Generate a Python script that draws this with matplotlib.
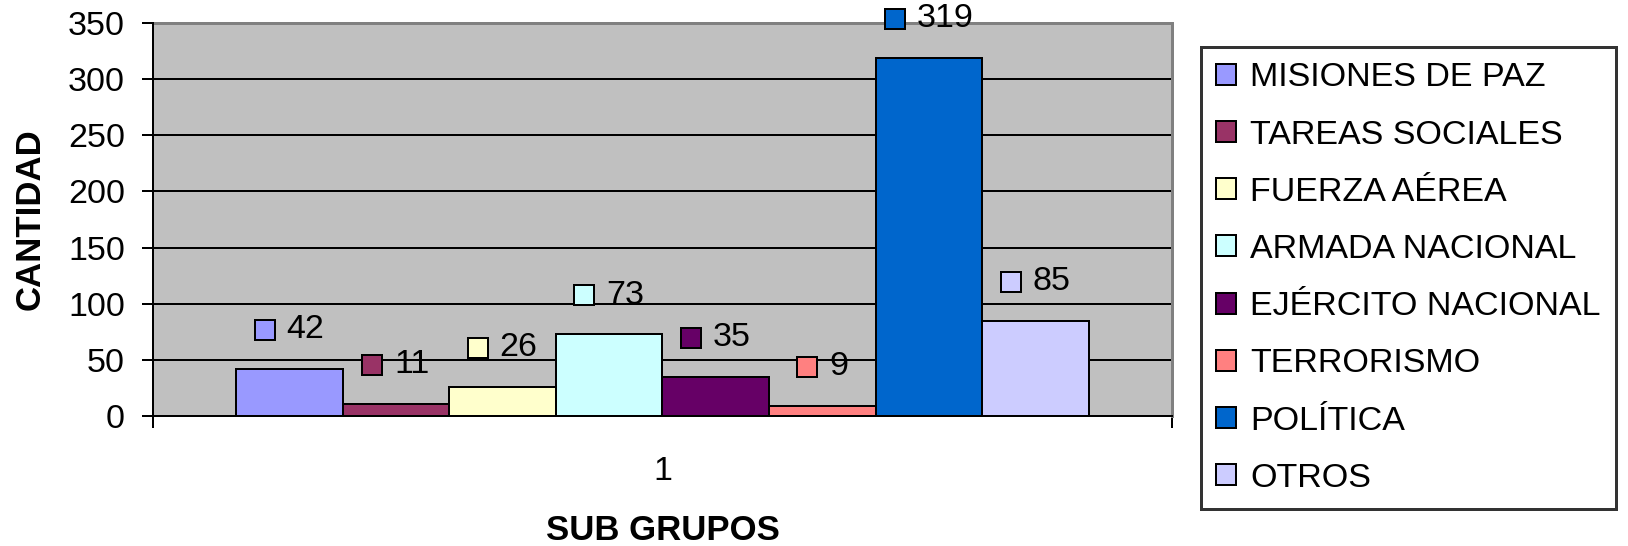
import matplotlib
matplotlib.use("Agg")
import matplotlib.pyplot as plt
from matplotlib.patches import Patch, Rectangle
from matplotlib.offsetbox import DrawingArea, TextArea, HPacker, AnnotationBbox

plt.rcParams['font.family'] = ['Liberation Sans', 'DejaVu Sans']

categories = ["MISIONES DE PAZ", "TAREAS SOCIALES", "FUERZA AÉREA", "ARMADA NACIONAL",
              "EJÉRCITO NACIONAL", "TERRORISMO", "POLÍTICA", "OTROS"]
values = [42, 11, 26, 73, 35, 9, 319, 85]
colors = ["#9999FF", "#993366", "#FFFFCC", "#CCFFFF", "#660066", "#FF8080", "#0066CC", "#CCCCFF"]
group_label = "1"
y_ticks = [0, 50, 100, 150, 200, 250, 300, 350]

DPI = 100
px = 72.0 / DPI  # points per pixel

fig = plt.figure(figsize=(16.28, 5.46), dpi=DPI)
ax = fig.add_axes([153/1628, 1-416/546, (1172-153)/1628, (416-23)/546])
ax.set_facecolor("#C0C0C0")

n = len(values)
width = 0.1046
for i, (cat, v, c) in enumerate(zip(categories, values, colors)):
    x = 1 + (i - (n - 1) / 2) * width
    ax.bar(x, v, width=width, color=c, edgecolor="black", linewidth=2*px, zorder=3, label=cat)
    # data label: square + number, centered above bar
    da = DrawingArea(20*px, 20*px, 0, 0)
    da.add_artist(Rectangle((0, 0), 20*px, 20*px, facecolor=c, edgecolor="black", linewidth=2*px))
    ta = TextArea(str(v), textprops=dict(fontsize=24.5, color="black"))
    pack = HPacker(children=[da, ta], align="center", pad=0, sep=12*px)
    ab = AnnotationBbox(pack, (x, v), xybox=(0, 39*px), xycoords="data",
                        boxcoords="offset points", frameon=False, box_alignment=(0.5, 0.5),
                        zorder=5, annotation_clip=False)
    ax.add_artist(ab)

ax.set_xlim(0.5, 1.5)
ax.set_ylim(0, 350)
ax.set_yticks(y_ticks)
ax.set_yticklabels([str(t) for t in y_ticks])
ax.yaxis.grid(True, color="black", linewidth=2*px, zorder=1)
ax.set_axisbelow(True)

ax.set_xticks([1])
ax.set_xticklabels([group_label])
ax.set_xticks([0.5, 1.5], minor=True)
ax.tick_params(axis="x", which="major", length=0, pad=40*px, labelsize=24.5)
ax.tick_params(axis="x", which="minor", length=12*px, width=2*px, direction="out")
ax.tick_params(axis="y", length=11*px, width=2*px, direction="out", pad=17*px, labelsize=24.5)

for s in ["left", "bottom"]:
    ax.spines[s].set_color("black")
    ax.spines[s].set_linewidth(2*px)
    ax.spines[s].set_zorder(4)
for s in ["top", "right"]:
    ax.spines[s].set_color("#808080")
    ax.spines[s].set_linewidth(3*px)

ax.set_xlabel("SUB GRUPOS", fontsize=25, fontweight="bold", va="center")
ax.xaxis.set_label_coords(0.5, (416-531)/393)
ax.set_ylabel("CANTIDAD", fontsize=25, fontweight="bold", va="center")
ax.yaxis.set_label_coords((30-153)/1019, 0.5)

handles = [Patch(facecolor=c, edgecolor="black", linewidth=2*px) for c in colors]
leg = fig.legend(handles, categories, loc="upper left",
                 bbox_to_anchor=(1201/1628, 1-47/546), bbox_transform=fig.transFigure,
                 fontsize=24.5, frameon=True, fancybox=False, borderaxespad=0,
                 handlelength=0.57, handleheight=0.57, handletextpad=0.42,
                 labelspacing=0.77, borderpad=0.45)
fr = leg.get_frame()
fr.set_edgecolor("black")
fr.set_linewidth(3*px)
fr.set_facecolor("white")

fig.savefig("out.png", dpi=DPI)
